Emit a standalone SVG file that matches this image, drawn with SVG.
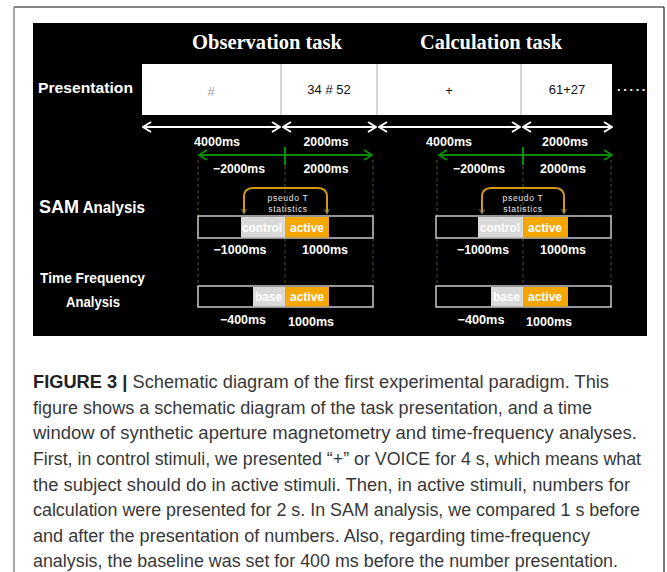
<svg xmlns="http://www.w3.org/2000/svg" width="667" height="572" viewBox="0 0 667 572">
  <style>
    .title { font-family: "Liberation Serif", "Times New Roman", serif; font-weight: bold; font-size: 20px; fill: #fff; }
    .lbl { font-family: "Liberation Sans", Arial, sans-serif; font-weight: bold; fill: #fff; }
    .ms { font-family: "Liberation Sans", Arial, sans-serif; font-weight: bold; font-size: 12.5px; fill: #fff; text-anchor: middle; }
    .stim { font-family: "Liberation Sans", Arial, sans-serif; font-size: 13px; fill: #111; text-anchor: middle; }
    .win { font-family: "Liberation Sans", Arial, sans-serif; font-weight: bold; font-size: 13.5px; fill: #fff; }
    .pt { font-family: "Liberation Sans", Arial, sans-serif; font-size: 8.5px; fill: #e8e8e8; text-anchor: middle; letter-spacing: 0.7px; }
    .cap { font-family: "Liberation Sans", Arial, sans-serif; font-size: 17.5px; fill: #383838; }
    .wArrow { stroke: #fff; stroke-width: 2; fill: none; }
    .gArrow { stroke: #0a8a0a; stroke-width: 2; fill: none; }
    .guide { stroke: #5a5a1a; stroke-width: 1; stroke-dasharray: 3 3; fill: none; }
    .bar { fill: #000; stroke: #c8c8c8; stroke-width: 1.5; }
    .ctrl { fill: #d9d9d9; }
    .act { fill: #f4a700; }
    .bracket { stroke: #d19a12; stroke-width: 2; fill: none; }
  </style>
  <defs>
    <marker id="wHead" viewBox="0 0 10 12" refX="9" refY="6" markerWidth="10" markerHeight="12" markerUnits="userSpaceOnUse" orient="auto-start-reverse">
      <path d="M1,1 L9,6 L1,11" fill="none" stroke="#fff" stroke-width="2"/>
    </marker>
    <marker id="gHead" viewBox="0 0 10 12" refX="9" refY="6" markerWidth="10" markerHeight="12" markerUnits="userSpaceOnUse" orient="auto-start-reverse">
      <path d="M1,1 L9,6 L1,11" fill="none" stroke="#0a8a0a" stroke-width="2"/>
    </marker>
  </defs>

  <!-- page frame -->
  <rect width="667" height="572" fill="#fff"/>
  <line x1="14" y1="7" x2="664" y2="7" stroke="#111" stroke-width="1.2"/>
  <line x1="14" y1="7" x2="14" y2="572" stroke="#888" stroke-width="1.5"/>
  <line x1="664" y1="7" x2="664" y2="572" stroke="#222" stroke-width="1.2"/>

  <!-- dark panel -->
  <rect x="33" y="23" width="614" height="313" fill="#000"/>

  <!-- headings -->
  <g id="heading-observation">
    <text class="title" x="267" y="49" text-anchor="middle" textLength="150" lengthAdjust="spacingAndGlyphs">Observation task</text>
  </g>
  <g id="heading-calculation">
    <text class="title" x="491" y="49" text-anchor="middle" textLength="142" lengthAdjust="spacingAndGlyphs">Calculation task</text>
  </g>

  <!-- row labels -->
  <g id="label-presentation">
    <text class="lbl" x="38" y="93" font-size="15" textLength="95" lengthAdjust="spacingAndGlyphs">Presentation</text>
  </g>
  <g id="label-sam">
    <text class="lbl" x="39" y="213" textLength="106" lengthAdjust="spacingAndGlyphs"><tspan font-size="19">SAM</tspan><tspan font-size="16"> Analysis</tspan></text>
  </g>
  <g id="label-tf">
    <text class="lbl" x="40" y="283" font-size="15" textLength="105" lengthAdjust="spacingAndGlyphs">Time Frequency</text>
    <text class="lbl" x="93" y="307" font-size="15" text-anchor="middle" textLength="54" lengthAdjust="spacingAndGlyphs">Analysis</text>
  </g>

  <!-- presentation strip -->
  <g id="presentation-strip">
    <rect x="142" y="64" width="470" height="51" fill="#fff"/>
    <line x1="281" y1="64" x2="281" y2="115" stroke="#aaa" stroke-width="1"/>
    <line x1="377" y1="64" x2="377" y2="115" stroke="#aaa" stroke-width="1"/>
    <line x1="521" y1="64" x2="521" y2="115" stroke="#aaa" stroke-width="1"/>
    <text class="stim" x="211" y="96" font-size="18" style="fill:#a0a0a0">#</text>
    <text class="stim" x="329" y="94">34 # 52</text>
    <text class="stim" x="449" y="95" font-size="16">+</text>
    <text class="stim" x="567" y="94">61+27</text>
  </g>
  <g id="continuation">
    <text class="lbl" x="617" y="91" font-size="13" letter-spacing="2.6">.....</text>
  </g>

  <!-- connectors: timing arrows, guide lines and comparison brackets -->
  <g id="connectors">
    <line class="wArrow" x1="143" y1="127" x2="280" y2="127" marker-start="url(#wHead)" marker-end="url(#wHead)"/>
    <line class="wArrow" x1="283" y1="127" x2="376" y2="127" marker-start="url(#wHead)" marker-end="url(#wHead)"/>
    <line class="wArrow" x1="379" y1="127" x2="520" y2="127" marker-start="url(#wHead)" marker-end="url(#wHead)"/>
    <line class="wArrow" x1="523" y1="127" x2="612" y2="127" marker-start="url(#wHead)" marker-end="url(#wHead)"/>

    <line class="gArrow" x1="199" y1="155" x2="372" y2="155" marker-start="url(#gHead)" marker-end="url(#gHead)"/>
    <line class="gArrow" x1="285" y1="147" x2="285" y2="165"/>
    <line class="gArrow" x1="439" y1="155" x2="612" y2="155" marker-start="url(#gHead)" marker-end="url(#gHead)"/>
    <line class="gArrow" x1="523" y1="147" x2="523" y2="165"/>

    <line class="guide" x1="198" y1="160" x2="198" y2="307"/>
    <line class="guide" x1="285" y1="166" x2="285" y2="307"/>
    <line class="guide" x1="373" y1="160" x2="373" y2="307"/>
    <line class="guide" x1="437" y1="160" x2="437" y2="307"/>
    <line class="guide" x1="523" y1="166" x2="523" y2="307"/>
    <line class="guide" x1="611" y1="160" x2="611" y2="307"/>

    <path class="bracket" d="M244,213 V197 Q244,188 253,188 H318 Q327,188 327,197 V213"/>
    <path class="bracket" d="M482,213 V197 Q482,188 491,188 H555 Q564,188 564,197 V213"/>
    <path d="M241.5,209 L244,214 L246.5,209 M324.5,209 L327,214 L329.5,209 M479.5,209 L482,214 L484.5,209 M561.5,209 L564,214 L566.5,209" stroke="#777" stroke-width="1" fill="none"/>
  </g>

  <!-- duration labels -->
  <g id="durations">
    <text class="ms" x="217" y="146" textLength="46" lengthAdjust="spacingAndGlyphs">4000ms</text>
    <text class="ms" x="326" y="146" textLength="45" lengthAdjust="spacingAndGlyphs">2000ms</text>
    <text class="ms" x="449" y="146" textLength="46" lengthAdjust="spacingAndGlyphs">4000ms</text>
    <text class="ms" x="565" y="146" textLength="46" lengthAdjust="spacingAndGlyphs">2000ms</text>

    <text class="ms" x="239" y="173" textLength="52" lengthAdjust="spacingAndGlyphs">−2000ms</text>
    <text class="ms" x="326" y="173" textLength="45" lengthAdjust="spacingAndGlyphs">2000ms</text>
    <text class="ms" x="479" y="173" textLength="52" lengthAdjust="spacingAndGlyphs">−2000ms</text>
    <text class="ms" x="563" y="173" textLength="46" lengthAdjust="spacingAndGlyphs">2000ms</text>
  </g>

  <!-- SAM analysis windows -->
  <g id="sam-observation">
    <rect class="bar" x="198" y="216" width="175" height="22"/>
    <rect class="ctrl" x="241" y="217" width="44" height="20.5"/>
    <rect class="act" x="285" y="217" width="44" height="20.5"/>
    <text class="win" x="242" y="232" textLength="40" lengthAdjust="spacingAndGlyphs">control</text>
    <text class="win" x="290" y="232" textLength="34" lengthAdjust="spacingAndGlyphs">active</text>
    <text class="pt" x="288" y="201">pseudo T</text>
    <text class="pt" x="288" y="212">statistics</text>
    <text class="ms" x="240" y="254" textLength="53" lengthAdjust="spacingAndGlyphs">−1000ms</text>
    <text class="ms" x="325" y="254" textLength="46" lengthAdjust="spacingAndGlyphs">1000ms</text>
  </g>
  <g id="sam-calculation">
    <rect class="bar" x="436" y="216" width="175" height="22"/>
    <rect class="ctrl" x="478" y="217" width="45" height="20.5"/>
    <rect class="act" x="523" y="217" width="45" height="20.5"/>
    <text class="win" x="480" y="232" textLength="40" lengthAdjust="spacingAndGlyphs">control</text>
    <text class="win" x="528" y="232" textLength="34" lengthAdjust="spacingAndGlyphs">active</text>
    <text class="pt" x="523" y="201">pseudo T</text>
    <text class="pt" x="523" y="212">statistics</text>
    <text class="ms" x="483" y="254" textLength="52" lengthAdjust="spacingAndGlyphs">−1000ms</text>
    <text class="ms" x="563" y="254" textLength="46" lengthAdjust="spacingAndGlyphs">1000ms</text>
  </g>

  <!-- time-frequency windows -->
  <g id="tf-observation">
    <rect class="bar" x="198" y="286" width="175" height="21"/>
    <rect class="ctrl" x="253" y="287" width="32" height="19.5"/>
    <rect class="act" x="285" y="287" width="44" height="19.5"/>
    <text class="win" x="255" y="301" textLength="27" lengthAdjust="spacingAndGlyphs">base</text>
    <text class="win" x="290" y="301" textLength="34" lengthAdjust="spacingAndGlyphs">active</text>
    <text class="ms" x="243" y="324" textLength="46" lengthAdjust="spacingAndGlyphs">−400ms</text>
    <text class="ms" x="311" y="326" textLength="46" lengthAdjust="spacingAndGlyphs">1000ms</text>
  </g>
  <g id="tf-calculation">
    <rect class="bar" x="436" y="286" width="175" height="21"/>
    <rect class="ctrl" x="491" y="287" width="32" height="19.5"/>
    <rect class="act" x="523" y="287" width="45" height="19.5"/>
    <text class="win" x="493" y="301" textLength="27" lengthAdjust="spacingAndGlyphs">base</text>
    <text class="win" x="528" y="301" textLength="34" lengthAdjust="spacingAndGlyphs">active</text>
    <text class="ms" x="481" y="324" textLength="47" lengthAdjust="spacingAndGlyphs">−400ms</text>
    <text class="ms" x="549" y="326" textLength="46" lengthAdjust="spacingAndGlyphs">1000ms</text>
  </g>

  <!-- caption -->
  <g id="caption">
    <text class="cap" x="33" y="388" textLength="576" lengthAdjust="spacingAndGlyphs"><tspan font-weight="bold" fill="#222">FIGURE 3</tspan><tspan font-weight="bold" fill="#222"> | </tspan><tspan>Schematic diagram of the first experimental paradigm. This</tspan></text>
    <text class="cap" x="33" y="413.5" textLength="559" lengthAdjust="spacingAndGlyphs">figure shows a schematic diagram of the task presentation, and a time</text>
    <text class="cap" x="33" y="439" textLength="604" lengthAdjust="spacingAndGlyphs">window of synthetic aperture magnetometry and time-frequency analyses.</text>
    <text class="cap" x="33" y="465" textLength="608" lengthAdjust="spacingAndGlyphs">First, in control stimuli, we presented “+” or VOICE for 4 s, which means what</text>
    <text class="cap" x="33" y="490.5" textLength="597" lengthAdjust="spacingAndGlyphs">the subject should do in active stimuli. Then, in active stimuli, numbers for</text>
    <text class="cap" x="33" y="516" textLength="607" lengthAdjust="spacingAndGlyphs">calculation were presented for 2 s. In SAM analysis, we compared 1 s before</text>
    <text class="cap" x="33" y="541.5" textLength="557" lengthAdjust="spacingAndGlyphs">and after the presentation of numbers. Also, regarding time-frequency</text>
    <text class="cap" x="33" y="567" textLength="585" lengthAdjust="spacingAndGlyphs">analysis, the baseline was set for 400 ms before the number presentation.</text>
  </g>
</svg>
